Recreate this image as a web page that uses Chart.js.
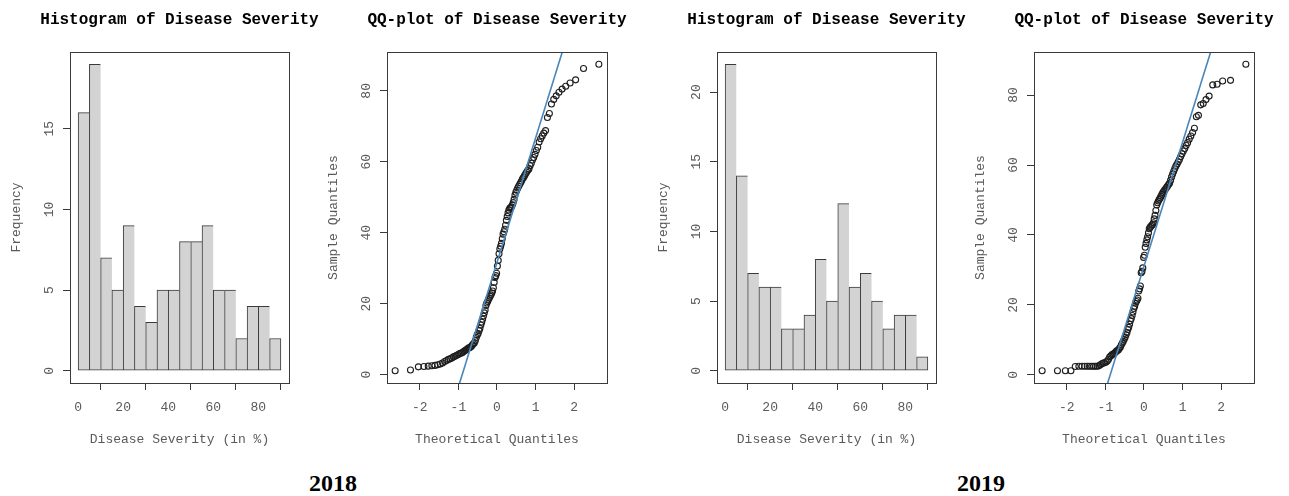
<!DOCTYPE html>
<html>
<head>
<meta charset="utf-8">
<script src="https://cdn.jsdelivr.net/npm/chart.js@4.4.1/dist/chart.umd.min.js"></script>
<style>
  body { margin: 0; background: #fff; width: 1289px; height: 496px; position: relative; overflow: hidden; }
  canvas { position: absolute; top: 0; }
  .year { position: absolute; top: 470px; width: 100px; text-align: center; line-height: 24px;
          font: bold 24px "Liberation Serif", "Times New Roman", serif; color: #000; }
</style>
</head>
<body>
<canvas id="hist18"></canvas>
<canvas id="qq18"></canvas>
<canvas id="hist19"></canvas>
<canvas id="qq19"></canvas>
<div class="year" style="left:283px">2018</div>
<div class="year" style="left:931px">2019</div>

<script>
// histogram bins (right-closed, 5 % wide) and counts
const binEdges = [0, 5, 10, 15, 20, 25, 30, 35, 40, 45, 50, 55, 60, 65, 70, 75, 80, 85, 90];
const hist2018 = [16, 19, 7, 5, 9, 4, 3, 5, 5, 8, 8, 9, 5, 5, 2, 4, 4, 2];
const hist2019 = [22, 14, 7, 6, 6, 3, 3, 4, 8, 5, 12, 6, 7, 5, 3, 4, 4, 1];

// sorted disease severity (%), 120 plots per year
const severity2018 = [
  1.1, 1.3, 2.2, 2.3, 2.4, 2.5, 2.6, 2.8, 3.0, 3.3, 3.7, 4.0, 4.3, 4.5, 4.7, 5.0,
  5.2, 5.4, 5.6, 5.8, 6.0, 6.1, 6.3, 6.6, 6.8, 7.0, 7.2, 7.5, 7.6, 7.8, 8.0, 8.4, 8.7, 9.0, 9.6,
  10.5, 11.2, 11.6, 12.4, 13.0, 14.0, 14.8,
  15.6, 16.5, 17.4, 18.2, 19.5,
  20.2, 20.6, 21.2, 21.6, 22.1, 22.5, 23.0, 23.6, 24.5,
  26.0, 27.4, 27.9, 28.6,
  30.6, 32.2, 34.1,
  35.4, 36.2, 37.0, 38.3, 39.6,
  40.3, 41.0, 42.1, 43.5, 44.6,
  45.6, 46.4, 46.9, 47.1, 47.3, 47.8, 48.5, 49.4,
  50.6, 51.4, 52.0, 52.6, 53.1, 53.6, 54.1, 54.6,
  55.2, 55.6, 56.1, 56.6, 57.1, 57.6, 58.0, 58.9, 59.6,
  60.5, 61.2, 62.1, 63.2, 64.1,
  65.6, 66.5, 67.3, 68.1, 68.8,
  72.5, 73.6,
  76.3, 77.6, 78.6, 79.6,
  80.5, 81.3, 82.2, 83.1,
  86.3, 87.5
];
const severity2019 = [
  1.2, 1.2, 1.2, 1.2, 2.4, 2.5, 2.5, 2.5, 2.5, 2.5, 2.5, 2.5, 2.5, 2.5, 2.6, 2.9, 3.2, 3.4, 3.5, 3.7, 4.0, 4.5,
  5.2, 5.5, 5.8, 6.0, 6.2, 6.5, 6.8, 7.0, 7.2, 7.6, 8.0, 8.6, 9.1, 9.6,
  10.2, 10.8, 11.5, 12.1, 13.0, 13.6, 14.5,
  15.5, 16.1, 17.0, 18.0, 19.0, 19.6,
  20.5, 21.0, 21.4, 21.9, 24.0, 24.6,
  25.4, 29.2, 29.6,
  30.6, 33.6, 34.2,
  36.5, 37.6, 38.6, 39.5,
  40.6, 41.8, 42.2, 42.5, 42.8, 43.0, 43.5, 44.6,
  45.6, 47.0, 48.6, 49.2, 49.7,
  50.2, 50.6, 51.1, 51.6, 52.1, 52.5, 52.9, 53.2, 53.6, 54.0, 54.4, 54.8,
  55.6, 56.6, 57.4, 58.2, 59.0, 59.7,
  60.3, 60.9, 61.6, 62.4, 63.2, 64.0, 64.7,
  65.6, 66.4, 67.4, 68.3, 69.3,
  70.5, 73.8, 74.2,
  77.2, 77.6, 78.7, 79.7,
  82.9, 83.1, 84.0, 84.2,
  88.8
];

const histXTicks = [0, 20, 40, 60, 80];
const hist2018YTicks = [0, 5, 10, 15];
const hist2019YTicks = [0, 5, 10, 15, 20];
const qqXTicks = [-2, -1, 0, 1, 2];
const qqYTicks = [0, 20, 40, 60, 80];

const INK = '#3a3a3a';
const TXT = '#5a5a5a';
const BAR = '#d3d3d3';
const BLUE = '#4a86b8';
const MONO = '"Liberation Mono", "Courier New", monospace';

// side margins are equal so the title centres over the box
const CANVAS_H = 450, BOX_TOP = 52, BOX_BOTTOM = 383, SIDE = 70;

// inverse normal cdf (Acklam)
function qnorm(p) {
  const a = [-3.969683028665376e+01, 2.209460984245205e+02, -2.759285104469687e+02, 1.383577518672690e+02, -3.066479806614716e+01, 2.506628277459239e+00];
  const b = [-5.447609879822406e+01, 1.615858368580409e+02, -1.556989798598866e+02, 6.680131188771972e+01, -1.328068155288572e+01];
  const c = [-7.784894002430293e-03, -3.223964580411365e-01, -2.400758277161838e+00, -2.549732539343734e+00, 4.374664141464968e+00, 2.938163982698783e+00];
  const d = [7.784695709041462e-03, 3.224671290700398e-01, 2.445134137142996e+00, 3.754408661907416e+00];
  const pl = 0.02425;
  if (p < pl) {
    const q = Math.sqrt(-2 * Math.log(p));
    return (((((c[0]*q+c[1])*q+c[2])*q+c[3])*q+c[4])*q+c[5]) / ((((d[0]*q+d[1])*q+d[2])*q+d[3])*q+1);
  }
  if (p > 1 - pl) {
    const q = Math.sqrt(-2 * Math.log(1 - p));
    return -(((((c[0]*q+c[1])*q+c[2])*q+c[3])*q+c[4])*q+c[5]) / ((((d[0]*q+d[1])*q+d[2])*q+d[3])*q+1);
  }
  const q = p - 0.5, r = q * q;
  return (((((a[0]*r+a[1])*r+a[2])*r+a[3])*r+a[4])*r+a[5])*q / (((((b[0]*r+b[1])*r+b[2])*r+b[3])*r+b[4])*r+1);
}

// R's quantile type 7
function quantile(sorted, p) {
  const h = (sorted.length - 1) * p, lo = Math.floor(h);
  return sorted[lo] + (h - lo) * (sorted[lo + 1] - sorted[lo]);
}

// R pads the data range by 4 % on each side
function rRange(lo, hi) {
  const d = (hi - lo) * 0.04;
  return [lo - d, hi + d];
}

const boxPlugin = {
  id: 'rbox',
  afterDraw(chart) {
    const a = chart.chartArea, ctx = chart.ctx;
    ctx.save();
    ctx.strokeStyle = INK;
    ctx.lineWidth = 1;
    ctx.strokeRect(Math.round(a.left) + 0.5, Math.round(a.top) + 0.5,
                   Math.round(a.right - a.left), Math.round(a.bottom - a.top));
    ctx.restore();
  }
};

function axis(range, ticks, title, isY) {
  const font = { family: MONO, size: 13, lineHeight: 1.2 };
  return {
    type: 'linear',
    min: range[0],
    max: range[1],
    afterBuildTicks: s => { s.ticks = ticks.map(v => ({ value: v })); },
    afterFit: s => {
      if (isY) s.width = SIDE;
      else s.height = CANVAS_H - BOX_BOTTOM;
    },
    border: { display: false },
    grid: { drawOnChartArea: false, drawTicks: true, tickLength: 7, color: INK, lineWidth: 1 },
    ticks: {
      color: TXT, font, autoSkip: false, padding: isY ? 6 : 18,
      minRotation: isY ? 90 : 0, maxRotation: isY ? 90 : 0,
      crossAlign: 'center',
      callback: v => String(v)
    },
    title: {
      display: true, text: title, color: TXT, font,
      padding: isY ? { top: 8.7, bottom: 0 } : { top: 0, bottom: 2.9 }
    }
  };
}

// empty right-hand scale that mirrors the left margin
const spacer = {
  position: 'right', display: true,
  afterFit: s => { s.width = SIDE; },
  grid: { display: false }, ticks: { display: false }, border: { display: false }
};

function baseOptions(title, xScale, yScale) {
  return {
    responsive: false,
    animation: false,
    events: [],
    layout: { padding: 0 },
    plugins: {
      legend: { display: false },
      tooltip: { enabled: false },
      title: {
        display: true, text: title, color: '#000',
        font: { family: MONO, size: 16, weight: 'bold', lineHeight: 1.2 },
        padding: { top: 10, bottom: BOX_TOP - 10 - 19.2 }
      }
    },
    scales: { x: xScale, y: yScale, yr: spacer }
  };
}

function place(id, boxLeft, boxRight) {
  const el = document.getElementById(id);
  el.style.left = (boxLeft - SIDE) + 'px';
  el.width = boxRight - boxLeft + 2 * SIDE;
  el.height = CANVAS_H;
  return el;
}

function histogram(id, boxLeft, boxRight, counts, yTicks) {
  const el = place(id, boxLeft, boxRight);
  const last = counts.length - 1;
  const xRange = rRange(binEdges[0], binEdges[binEdges.length - 1]);
  const yRange = rRange(0, Math.max(...counts));
  new Chart(el, {
    type: 'bar',
    data: {
      datasets: [{
        data: counts.map((c, i) => ({ x: (binEdges[i] + binEdges[i + 1]) / 2, y: c })),
        backgroundColor: BAR,
        borderColor: INK,
        borderWidth: ctx => ({ top: 1, left: 1, bottom: 1, right: ctx.dataIndex === last ? 1 : 0 }),
        borderSkipped: false,
        barPercentage: 1,
        categoryPercentage: 1
      }]
    },
    options: baseOptions('Histogram of Disease Severity',
      Object.assign(axis(xRange, histXTicks, 'Disease Severity (in %)', false), { offset: false }),
      axis(yRange, yTicks, 'Frequency', true)),
    plugins: [boxPlugin]
  });
}

function qqplot(id, boxLeft, boxRight, sample) {
  const el = place(id, boxLeft, boxRight);
  const n = sample.length;
  const pts = sample.map((v, i) => ({ x: qnorm((i + 0.5) / n), y: v }));
  const xRange = rRange(pts[0].x, pts[n - 1].x);
  const yRange = rRange(sample[0], sample[n - 1]);
  // qqline through the first and third quartiles
  const q1 = quantile(sample, 0.25), q3 = quantile(sample, 0.75);
  const z1 = qnorm(0.25), z3 = qnorm(0.75);
  const slope = (q3 - q1) / (z3 - z1);
  const intercept = q1 - slope * z1;
  const linePts = xRange.map(x => ({ x, y: intercept + slope * x }));
  new Chart(el, {
    type: 'scatter',
    data: {
      datasets: [
        { type: 'line', data: linePts, borderColor: BLUE, borderWidth: 1.6, pointRadius: 0, fill: false },
        { data: pts, pointStyle: 'circle', pointRadius: 3, borderWidth: 1.1,
          borderColor: '#1e1e1e', backgroundColor: 'rgba(0,0,0,0)' }
      ]
    },
    options: baseOptions('QQ-plot of Disease Severity',
      axis(xRange, qqXTicks, 'Theoretical Quantiles', false),
      axis(yRange, qqYTicks, 'Sample Quantiles', true)),
    plugins: [boxPlugin]
  });
}

histogram('hist18', 70, 289, hist2018, hist2018YTicks);
qqplot('qq18', 387, 607, severity2018);
histogram('hist19', 717, 936, hist2019, hist2019YTicks);
qqplot('qq19', 1034, 1254, severity2019);
</script>
</body>
</html>
